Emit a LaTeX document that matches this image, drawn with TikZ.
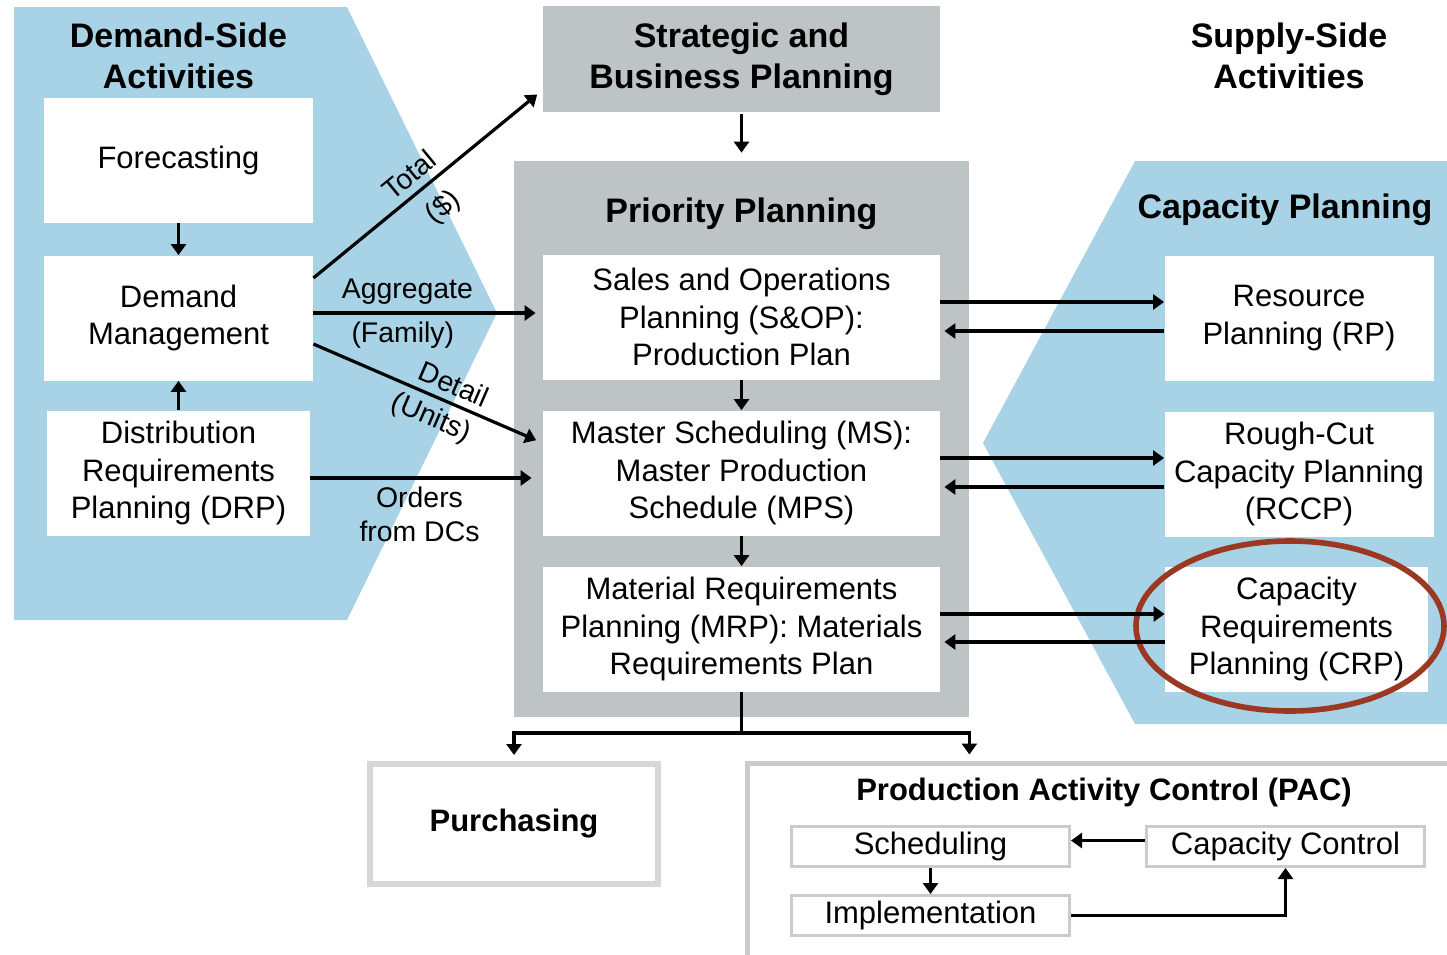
\documentclass[tikz,border=0pt]{standalone}
\usepackage{fontspec}
\setmainfont{Liberation Sans}
\usepackage{tikz}
\usetikzlibrary{arrows.meta,positioning,calc}

\definecolor{sideblue}{RGB}{168,210,229}
\definecolor{plangrey}{RGB}{190,195,198}
\definecolor{boxgrey}{RGB}{212,216,219}
\definecolor{pacgrey}{RGB}{200,204,207}
\definecolor{ringred}{RGB}{155,56,36}

\newcommand{\bodysize}{\fontsize{15.5}{18.6}\selectfont}
\newcommand{\headsize}{\fontsize{17}{20.5}\selectfont\bfseries}
\newcommand{\labelsize}{\fontsize{14.2}{17.3}\selectfont}

\tikzset{
  whitebox/.style={fill=white, inner sep=0pt, align=center, font=\bodysize, minimum height=62.5pt},
  sidebox/.style={whitebox, minimum width=134.5pt},
  planbox/.style={whitebox, minimum width=198.5pt},
  pacbox/.style={draw=pacgrey, line width=1.5pt, fill=white, inner sep=0pt, font=\bodysize, minimum width=139pt, minimum height=20pt},
  heading/.style={align=center, font=\headsize},
  flowlabel/.style={font=\labelsize, inner sep=3.5pt, align=center},
  flow/.style={->, line width=1.6pt},
}

\begin{document}
\begin{tikzpicture}[x=0.5pt, y=-0.5pt, >={Triangle[width=7.5pt,length=5.5pt]}]
  \useasboundingbox (0,0) rectangle (1447,954);
  \fill[sideblue] (14,7) -- (347,7) -- (497,313) -- (347,620) -- (14,620) -- cycle;
  \fill[sideblue] (1135,161) -- (1460,161) -- (1460,724) -- (1135,724) -- (983,443) -- cycle;

  \node[heading] (demtitle) at (178.5,56) {Demand-Side\\Activities};
  \node[heading] (suptitle) at (1289,56) {Supply-Side\\Activities};
  \node[heading] (captitle) at (1285,210) {Capacity Planning};

  \node[sidebox] (fore) at (178.5,160.5) {Forecasting};
  \node[sidebox] (dm) at (178.5,318) {Demand\\Management};
  \node[sidebox, minimum width=131.5pt] (drp) at (178.5,473) {Distribution\\Requirements\\Planning (DRP)};

  \node[fill=plangrey, heading, minimum width=198.5pt, minimum height=53pt, inner sep=0pt] (sbp) at (741.5,59) {Strategic and\\Business Planning};
  \node[fill=plangrey, minimum width=227.5pt, minimum height=278pt] (pp) at (741.5,439) {};
  \node[heading] (pptitle) at (741.5,214) {Priority Planning};
  \node[planbox] (sop) at (741.5,317) {Sales and Operations\\Planning (S\&OP):\\Production Plan};
  \node[planbox] (ms) at (741.5,473) {Master Scheduling (MS):\\Master Production\\Schedule (MPS)};
  \node[planbox] (mrp) at (741.5,629) {Material Requirements\\Planning (MRP): Materials\\Requirements Plan};

  \node[sidebox] (rp) at (1299,318) {Resource\\Planning (RP)};
  \node[sidebox] (rccp) at (1299,474) {Rough-Cut\\Capacity Planning\\(RCCP)};
  \node[sidebox, minimum width=131.5pt] (crp) at (1296.5,629) {Capacity\\Requirements\\Planning (CRP)};
  \draw[ringred, line width=2.8pt] (1290,626) ellipse [x radius=77pt, y radius=42.5pt];

  \node[draw=boxgrey, line width=3pt, minimum width=144pt, minimum height=60pt, font=\fontsize{15.5}{18.6}\selectfont\bfseries] (purch) at (514,824) {Purchasing};
  \node[draw=pacgrey, line width=2.5pt, minimum width=360pt, minimum height=110pt] (pac) at (1107.5,873) {};
  \node[font=\fontsize{15.5}{18.6}\selectfont\bfseries] (pactitle) at (1104,792) {Production Activity Control (PAC)};
  \node[pacbox] (sched) at (930.5,846.5) {Scheduling};
  \node[pacbox] (capc) at (1285.5,846.5) {Capacity Control};
  \node[pacbox] (impl) at (930.5,915.5) {Implementation};

  \draw[flow] (fore) -- (dm);
  \draw[flow] (drp) -- (dm);
  \draw[flow, shorten >=4pt, shorten <=1pt] (sbp) -- (pp);
  \draw[flow] (sop) -- (ms);
  \draw[flow] (ms) -- (mrp);

  \draw[flow, shorten >=3.5pt] ([yshift=20pt]dm.east) -- ([yshift=-15.5pt]sbp.west)
    node[flowlabel, sloped, above, pos=0.47] {Total}
    node[flowlabel, sloped, below, inner sep=6.5pt, pos=0.49] {(\$)};
  \draw[flow, shorten >=3.5pt] ([yshift=2.5pt]dm.east) -- ([yshift=2.5pt]dm.east -| sop.west)
    node[flowlabel, above, pos=0.41] {Aggregate}
    node[flowlabel, below, pos=0.39] {(Family)};
  \draw[flow, shorten >=3.5pt] ([yshift=-13pt]dm.east) -- ([yshift=15pt]ms.west)
    node[flowlabel, sloped, above, pos=0.58] {Detail}
    node[flowlabel, sloped, below, pos=0.55] {(Units)};
  \draw[flow, shorten >=5.5pt] ([yshift=-2.5pt]drp.east) -- ([yshift=-2.5pt]drp.east -| ms.west)
    node[flowlabel, below, pos=0.47] {Orders\\from DCs};

  \foreach \plan/\cap in {sop/rp, ms/rccp, mrp/crp} {
    \draw[flow] ([yshift=7.5pt]\plan.east) -- ([yshift=7.5pt]\plan.east -| \cap.west);
    \draw[flow, shorten >=2pt] ([yshift=-6.5pt]\cap.west) -- ([yshift=-6.5pt]\cap.west -| \plan.east);
  }

  \coordinate (split) at (741.5,733);
  \draw[line width=1.6pt] (mrp.south) -- (split);
  \draw[flow, shorten >=3pt] (split) -| (purch.north);
  \draw[flow, shorten >=3pt] (split) -| (pp.east |- pac.north);

  \draw[flow] ([yshift=3pt]capc.west) -- ([yshift=3pt]capc.west -| sched.east);
  \draw[flow] (sched) -- (impl);
  \draw[flow] (impl.east) -| (capc.south);
\end{tikzpicture}
\end{document}
